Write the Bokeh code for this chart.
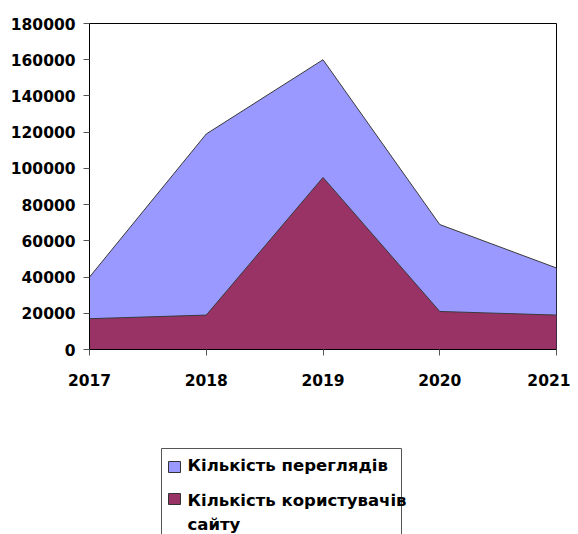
from bokeh.plotting import figure
from bokeh.layouts import column
from bokeh.models import FixedTicker, Range1d, BasicTickFormatter, ColumnDataSource
from bokeh.core.properties import value
from bokeh.embed import file_html
from bokeh.resources import INLINE

years = [2017, 2018, 2019, 2020, 2021]
views = [40000, 119000, 160000, 69000, 45000]
users = [17000, 19000, 95000, 21000, 19000]
y_ticks = [0, 20000, 40000, 60000, 80000, 100000, 120000, 140000, 160000, 180000]
series_names = ["Кількість переглядів", "Кількість користувачів\nсайту"]
colors = ["#9999FF", "#993366"]

FONT = "DejaVu Sans"
BL, BR = 89, 14  # left/right borders around the plotting frame

p = figure(width=570, height=408, output_backend="svg", toolbar_location=None,
           x_range=Range1d(2017, 2021), y_range=Range1d(0, 180000),
           min_border_left=BL, min_border_right=BR, min_border_top=23, min_border_bottom=59)

src = ColumnDataSource(dict(x=years, views=views, users=users))
p.varea(x="x", y1=0, y2="views", source=src, fill_color=colors[0])
p.line(x="x", y="views", source=src, line_color="#3a3a3a", line_width=1)
p.varea(x="x", y1=0, y2="users", source=src, fill_color=colors[1])
p.line(x="x", y="users", source=src, line_color="#3a3a3a", line_width=1)

p.xgrid.visible = False
p.ygrid.visible = False
p.outline_line_color = "black"
p.outline_line_width = 1

p.xaxis.ticker = FixedTicker(ticks=years)
p.yaxis.ticker = FixedTicker(ticks=y_ticks)
p.yaxis.formatter = BasicTickFormatter(use_scientific=False)
for ax in (p.xaxis, p.yaxis):
    ax.axis_line_color = "black"
    ax.major_tick_line_color = "#555555"
    ax.major_tick_in = 0
    ax.major_tick_out = 6
    ax.minor_tick_line_color = None
    ax.major_label_text_font = FONT
    ax.major_label_text_font_style = "bold"
    ax.major_label_text_font_size = "15.5px"
    ax.major_label_text_color = "black"
p.yaxis.major_label_standoff = 8
p.xaxis.major_label_standoff = 18

# legend panel (pixel coordinates: x = page x, y downward from panel top)
LW, LH = 570, 126
lg = figure(width=LW, height=LH, output_backend="svg", toolbar_location=None,
            x_range=Range1d(BL, LW - BR), y_range=Range1d(LH, 0),
            min_border_left=BL, min_border_right=BR, min_border_top=0, min_border_bottom=0,
            x_axis_location=None, y_axis_location=None)
lg.xgrid.visible = False
lg.ygrid.visible = False
lg.outline_line_color = None

box_l, box_r, box_t = 161, 401, 40
lg.line(x=[box_l, box_l, box_r, box_r], y=[LH + 2, box_t, box_t, LH + 2],
        line_color="#555555", line_width=1)
sw_top = [53, 85]
line_rows = [[57], [92, 116]]
for i in range(2):
    lg.quad(left=[168], right=[180], top=[sw_top[i]], bottom=[sw_top[i] + 11],
            fill_color=colors[i], line_color="#333333", line_width=1)
    parts = series_names[i].split("\n")
    lg.text(x=[187] * len(parts), y=line_rows[i], text=parts,
            text_font=value(FONT), text_font_style="bold", text_font_size="16.5px",
            text_baseline="middle", text_align="left", text_color="black")

layout = column(p, lg, spacing=0)
open("out.html", "w").write(file_html(layout, INLINE))
